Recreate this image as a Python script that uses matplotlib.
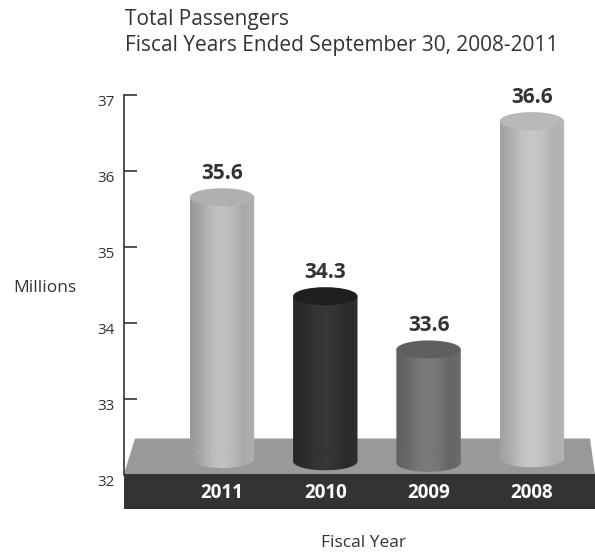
import numpy as np
import matplotlib
matplotlib.use('Agg')
import matplotlib.pyplot as plt
from matplotlib.colors import LinearSegmentedColormap
from matplotlib.patches import Ellipse, PathPatch, Polygon, Rectangle
from matplotlib.path import Path
from matplotlib.transforms import ScaledTranslation

plt.rcParams['font.family'] = ['Open Sans', 'DejaVu Sans']

years = ['2011', '2010', '2009', '2008']
passengers = [35.6, 34.3, 33.6, 36.6]
y_ticks = [32, 33, 34, 35, 36, 37]

title_lines = ['Total Passengers', 'Fiscal Years Ended September 30, 2008-2011']

# horizontal shading across each cylinder, left to right
shades = [
    ['#989898', '#a6a6a6', '#bcbcbc', '#c2c2c2', '#b8b8b8', '#a8a8a8', '#b0b0b0'],
    ['#262626', '#2c2c2c', '#333333', '#373737', '#333333', '#2b2b2b', '#2e2e2e'],
    ['#5e5e5e', '#686868', '#767676', '#7c7c7c', '#747474', '#646464', '#6c6c6c'],
    ['#a0a0a0', '#aeaeae', '#c2c2c2', '#c8c8c8', '#c0c0c0', '#b0b0b0', '#b6b6b6'],
]
top_colors = ['#b0b0b0', '#1f1f1f', '#5f5f5f', '#b8b8b8']
base_colors = ['#bcbcbc', '#2b2b2b', '#707070', '#c4c4c4']

W, H = 595, 554
DARK = '#333333'


def fx(px):
    return px / W


def fy(py):
    return 1 - py / H


fig = plt.figure(figsize=(W / 100, H / 100), dpi=100)
fig.patch.set_facecolor('white')

# the floor slab sits on the figure, behind the axes
fig.add_artist(Polygon(
    [(fx(124), fy(474)), (fx(135), fy(438.5)), (fx(590), fy(438.5)), (fx(595), fy(474))],
    closed=True, facecolor='#999999', edgecolor='none', zorder=-2))
fig.add_artist(Rectangle((fx(124), fy(509)), fx(471), fy(474) - fy(509),
                         facecolor=DARK, edgecolor='none', zorder=-1))

# y axis runs 32-37 between pixel rows 475 and 94.5
ax = fig.add_axes([fx(124), fy(475), fx(471), fy(94.5) - fy(475)])
ax.patch.set_alpha(0)
ax.set_ylim(32, 37)
# bar centres at 222, 327, 429, 532 px, about 103.3 px apart
step = 103.3
x0 = (124 - 222) / step
ax.set_xlim(x0, x0 + 471 / step)

for name in ['top', 'right', 'bottom']:
    ax.spines[name].set_visible(False)
ax.spines['left'].set_color(DARK)
ax.spines['left'].set_linewidth(1.2)
ax.set_xticks([])
ax.set_yticks(y_ticks)
ax.tick_params(axis='y', direction='in', length=9, width=1.2, color=DARK,
               labelsize=11, labelcolor=DARK, pad=6.5)
drop = ScaledTranslation(0, -5.5 / 100, fig.dpi_scale_trans)
for label in ax.get_yticklabels():
    label.set_transform(label.get_transform() + drop)

px_x = step
px_y = 76.1
half_w = 32.2 / px_x
ell_h = 18.0 / px_y
top_shift = 0.05
# bottom centre of each cylinder, in axis units
bases = [32.21, 32.18, 32.16, 32.22]

for i, value in enumerate(passengers):
    top = value + top_shift
    base = bases[i]
    cmap = LinearSegmentedColormap.from_list('shade%d' % i, shades[i])

    t = np.linspace(np.pi, 2 * np.pi, 60)
    arc_x = i + half_w * np.cos(t)
    arc_y = base + ell_h / 2 * np.sin(t)
    verts = [(i - half_w, top)] + list(zip(arc_x, arc_y)) + [(i + half_w, top), (i - half_w, top)]
    codes = [Path.MOVETO] + [Path.LINETO] * (len(verts) - 2) + [Path.CLOSEPOLY]
    body = PathPatch(Path(verts, codes), facecolor='none', edgecolor='none')
    ax.add_patch(body)

    im = ax.imshow(np.linspace(0, 1, 128).reshape(1, -1), cmap=cmap, aspect='auto',
                   extent=(i - half_w, i + half_w, base - ell_h, top), zorder=2)
    im.set_clip_path(body)

    # faint rear rim of the base, seen through the body
    t_back = np.linspace(0, np.pi, 40)
    ax.plot(i + half_w * np.cos(t_back), base + ell_h / 2 * np.sin(t_back),
            color=base_colors[i], lw=0.5, alpha=0.4, zorder=3)

    ax.add_patch(Ellipse((i, top), 2 * half_w, ell_h, facecolor=top_colors[i],
                         edgecolor='none', zorder=4))

    ax.annotate('%.1f' % value, (i, top), xytext=(0, 17), textcoords='offset points',
                ha='center', va='center', fontsize=15, fontweight='bold', color=DARK,
                zorder=5)
    ax.annotate(years[i], (i, 0), xycoords=('data', 'figure fraction'),
                xytext=(i, fy(493)), textcoords=('data', 'figure fraction'),
                ha='center', va='center', fontsize=13.5, fontweight='bold', color='white',
                zorder=5)

fig.text(fx(125), fy(19), title_lines[0], ha='left', va='center', fontsize=15, color=DARK)
fig.text(fx(125), fy(45), title_lines[1], ha='left', va='center', fontsize=15, color=DARK)
fig.text(fx(45), fy(288), 'Millions', ha='center', va='center', fontsize=12.5, color=DARK)
fig.text(fx(363.5), fy(543), 'Fiscal Year', ha='center', va='center', fontsize=12.5, color=DARK)

fig.savefig('out.png', dpi=100)
